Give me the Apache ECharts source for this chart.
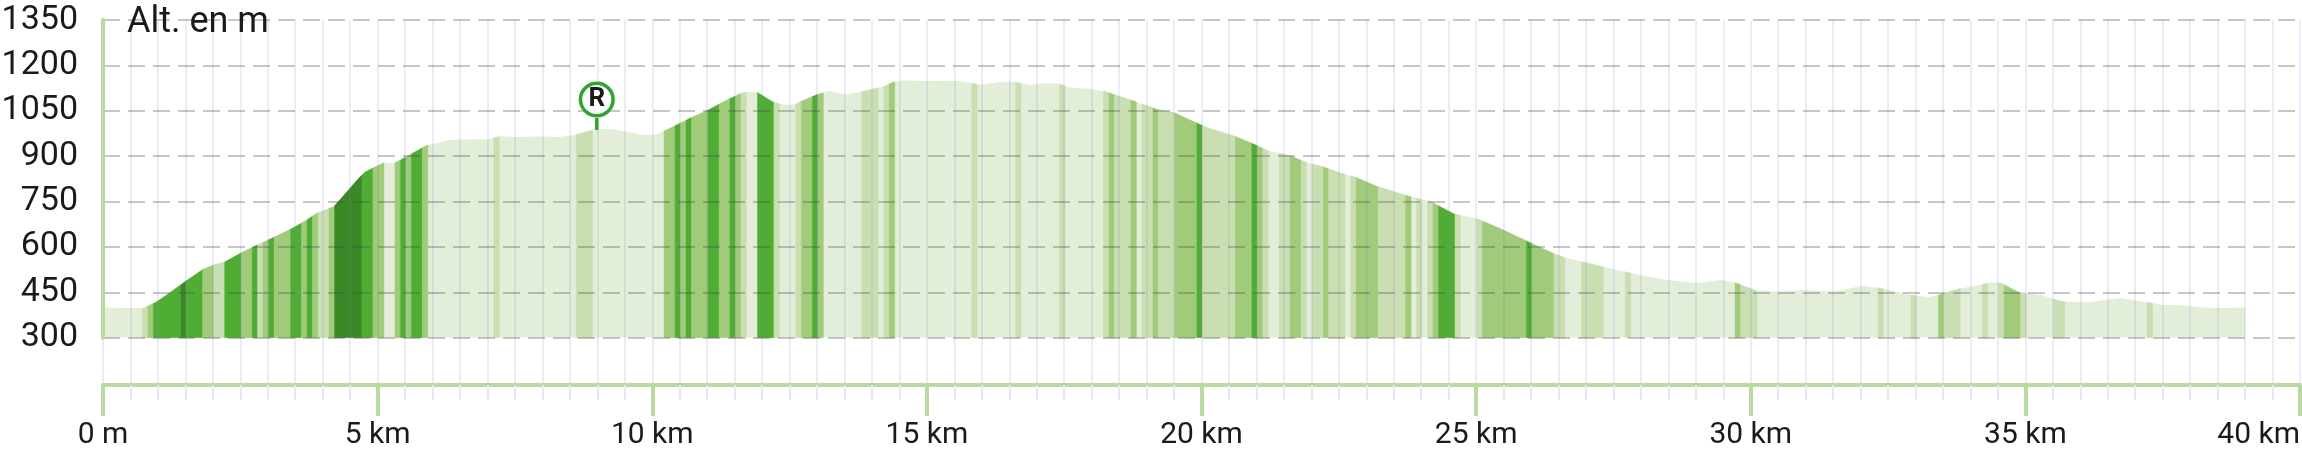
<!DOCTYPE html>
<html><head><meta charset="utf-8">
<script src="https://cdn.jsdelivr.net/npm/echarts@6/dist/echarts.min.js"></script>
<style>html,body{margin:0;padding:0;background:#fff}#c{width:2302px;height:455px}</style>
</head><body><div id="c"></div>
<script>
const profileKm = [0,.73,.98,1.22,1.49,1.82,2.01,2.22,2.5,2.8,3.1,3.44,3.71,3.89,4.2,4.44,4.65,4.77,5.11,5.32,5.65,5.9,6.32,6.75,7,7.23,7.47,8.02,8.32,8.6,8.99,9.29,9.84,10.08,10.39,10.69,11,11.36,11.6,11.75,11.9,12.2,12.39,12.57,12.99,13.21,13.54,13.82,14.21,14.39,14.57,15,15.55,15.97,16.34,16.52,16.89,17.19,17.4,17.61,17.98,18.22,18.71,19.19,19.5,19.92,20.1,20.59,20.95,21.2,21.62,21.92,22.23,22.53,22.8,23.2,23.75,24.17,24.6,25.02,25.45,25.94,26.39,26.6,27.27,28,28.48,29.03,29.46,29.7,30.09,30.49,30.91,31.52,32.04,32.34,32.92,33.22,33.4,33.77,34.19,34.37,34.55,34.88,35.28,35.67,36.13,36.74,37.28,37.52,37.89,38.19,38.62,39];
const profileAlt = [400,397,419,449,485,526,540,551,579,606,631,661,689,711,733,782,826,848,878,878,911,936,953,956,956,966,963,965,963,971,990,989,970,972,998,1026,1051,1086,1106,1114,1112,1079,1070,1070,1103,1115,1104,1114,1130,1145,1150,1148,1149,1136,1145,1147,1136,1141,1139,1127,1122,1115,1086,1055,1044,1009,995,967,940,919,901,879,864,844,831,800,769,750,709,693,660,618,580,566,536,506,491,481,491,483,456,452,457,453,472,464,441,434,440,461,475,483,481,450,441,420,417,431,415,408,407,400,398,400];
const bandStartKm = [.7,.8,.9,1.4,1.5,1.8,2,2.2,2.5,2.7,2.8,2.9,3,3.1,3.4,3.6,3.7,3.8,3.9,4.1,4.2,4.7,4.9,5.3,5.4,5.5,5.6,5.8,7.1,8.6,10.2,10.4,10.5,10.6,10.7,11,11.2,11.4,11.5,11.6,11.9,12.2,12.6,12.7,12.9,13,13.8,14.2,14.3,15.8,16.6,17.4,18.2,18.3,18.4,18.7,18.9,19.1,19.2,19.5,19.9,20,20.6,20.9,21,21.1,21.4,21.6,21.8,22,22.2,22.3,22.7,22.8,23.2,23.7,23.9,24.1,24.2,24.3,24.6,25,25.1,25.9,26,26.4,26.9,27.7,29.7,29.8,32.3,32.9,33.4,33.5,34.2,34.5,34.6,34.9,35.5,37.2];
const bandEndKm = [.8,.9,1.4,1.5,1.8,2,2.2,2.5,2.7,2.8,2.9,3,3.1,3.4,3.6,3.7,3.8,3.9,4.1,4.2,4.7,4.9,5.1,5.4,5.5,5.6,5.8,5.9,7.2,8.9,10.4,10.5,10.6,10.7,11,11.2,11.4,11.5,11.6,11.7,12.2,12.3,12.7,12.9,13,13.1,14.1,14.3,14.4,15.9,16.7,17.5,18.3,18.4,18.7,18.8,19.1,19.2,19.5,19.9,20,20.6,20.9,21,21.1,21.2,21.6,21.8,21.9,22.2,22.3,22.6,22.8,23.2,23.7,23.8,24,24.2,24.3,24.6,24.7,25.1,25.9,26,26.4,26.6,27.3,27.8,29.8,30.1,32.4,33,33.5,33.8,34.3,34.6,34.9,35,35.7,37.3];
const bandGrade = [1,2,3,4,3,2,1,3,2,3,1,2,3,2,3,2,3,2,1,2,4,3,2,2,3,2,3,2,1,1,2,3,2,3,2,3,2,3,2,1,3,1,1,2,3,2,1,1,2,1,1,1,1,2,1,2,1,2,1,2,3,1,2,3,2,1,1,2,1,1,2,1,1,2,1,2,1,1,2,3,1,1,2,3,2,1,1,1,2,1,1,1,2,1,1,1,2,1,1,1];
const gradeColors = ['#e3eed9','#c9dfb1','#a0cb7a','#4fad33','#3b8826'];
const xTickLabels = {0:'0 m',5:'5 km',10:'10 km',15:'15 km',20:'20 km',25:'25 km',30:'30 km',35:'35 km',40:'40 km'};
const markerKm = [8.99], markerAlt = [990], markerLabel = ['R'];
const bandOffsetKm = 0.015;

function altAt(km){
  for(let i=1;i<profileKm.length;i++){
    if(km<=profileKm[i]){
      const t=(km-profileKm[i-1])/(profileKm[i]-profileKm[i-1]);
      return profileAlt[i-1]+t*(profileAlt[i]-profileAlt[i-1]);
    }
  }
  return profileAlt[profileAlt.length-1];
}
const FONT='Roboto';
const AXIS='#b8d99f', GRIDV='rgba(120,130,200,0.15)';
const chart=echarts.init(document.getElementById('c'),null,{renderer:'canvas'});
chart.setOption({
  animation:false,
  backgroundColor:'#fff',
  title:{text:'Alt. en m',left:122,top:0,textStyle:{fontFamily:FONT,fontWeight:400,fontSize:36,color:'#1a1a1a'},z:20},
  grid:[
    {left:103,width:2197,top:20,height:317.7,outerBoundsMode:'none'},
    {left:103,width:2197,top:20,height:365,outerBoundsMode:'none'}
  ],
  xAxis:[
    {type:'value',gridIndex:0,min:0,max:40,show:false},
    {type:'value',gridIndex:1,min:0,max:40,interval:5,z:10,position:'bottom',
      axisLine:{show:true,onZero:false,lineStyle:{color:AXIS,width:4}},
      axisTick:{show:true,length:31,lineStyle:{color:AXIS,width:4}},
      minorTick:{show:true,splitNumber:10,length:15,lineStyle:{color:'#e6e9f5',width:2}},
      splitLine:{show:true,lineStyle:{color:GRIDV,width:2}},
      minorSplitLine:{show:true,lineStyle:{color:GRIDV,width:2}},
      axisLabel:{margin:35,fontFamily:FONT,fontWeight:400,fontSize:30,color:'#1a1a1a',
        alignMaxLabel:'right',showMaxLabel:true,showMinLabel:true,
        formatter:v=>xTickLabels[v]}
    }
  ],
  yAxis:[
    {type:'value',gridIndex:0,min:300,max:1350,interval:150,z:11,
      axisLine:{show:true,onZero:false,lineStyle:{color:AXIS,width:4}},
      axisTick:{show:false},
      splitLine:{show:true,lineStyle:{color:'rgba(70,70,70,0.3)',width:2,type:[17,8],dashOffset:0}},
      axisLabel:{margin:25,fontFamily:FONT,fontWeight:400,fontSize:34,color:'#1a1a1a',
        verticalAlignMaxLabel:'middle',verticalAlignMinLabel:'middle',
        padding:[0,0,4,0],formatter:v=>String(v)}
    },
    {type:'value',gridIndex:1,min:0,max:1,show:false}
  ],
  series:[
    {type:'line',xAxisIndex:0,yAxisIndex:0,z:2,showSymbol:false,symbol:'none',
      lineStyle:{width:0},areaStyle:{color:gradeColors[0],origin:'start',opacity:1},
      data:profileKm.map((k,i)=>[k,profileAlt[i]])},
    {type:'custom',xAxisIndex:0,yAxisIndex:0,z:3,clip:false,
      data:bandStartKm.map((s,i)=>[s,bandEndKm[i],bandGrade[i]]),
      encode:{x:[0,1]},
      renderItem(params,api){
        const s=api.value(0)+bandOffsetKm,e=api.value(1)+bandOffsetKm,col=gradeColors[api.value(2)];
        const top=[[s,altAt(s)]];
        profileKm.forEach((k,i)=>{if(k>s&&k<e)top.push([k,profileAlt[i]]);});
        top.push([e,altAt(e)]);
        const pts=top.map(p=>api.coord(p));
        pts.push(api.coord([e,300]));pts.push(api.coord([s,300]));
        return {type:'polygon',shape:{points:pts},style:{fill:col,stroke:col,lineWidth:0.4}};
      }},
    {type:'custom',xAxisIndex:0,yAxisIndex:0,z:15,clip:false,
      data:markerKm.map((k,i)=>[k,markerAlt[i],markerLabel[i]]),
      renderItem(params,api){
        const p=api.coord([api.value(0),api.value(1)]);
        const G='#2fa52f';
        return {type:'group',children:[
          {type:'line',shape:{x1:p[0],y1:p[1]-11,x2:p[0],y2:p[1]+1},style:{stroke:G,lineWidth:3.5}},
          {type:'circle',shape:{cx:p[0],cy:p[1]-29.5,r:16.3},style:{fill:'#fff',stroke:G,lineWidth:3.5}},
          {type:'text',x:p[0],y:p[1]-29.5,style:{text:api.value(2),fontFamily:FONT,fontWeight:700,fontSize:26,fill:'#1a1a1a',align:'center',verticalAlign:'middle'}}
        ]};
      }}
  ]
});
</script></body></html>
